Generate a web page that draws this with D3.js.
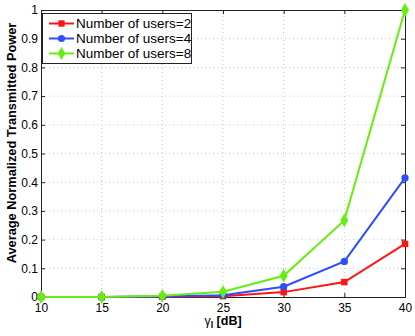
<!DOCTYPE html>
<html>
<head>
<meta charset="utf-8">
<script src="https://cdn.jsdelivr.net/npm/d3@7"></script>
<style>
  body { margin: 0; background: #fff; }
  text { font-family: "Liberation Sans", Arial, sans-serif; }
</style>
</head>
<body>
<div id="chart"></div>
<script>
// data
const gammaDb = [10, 15, 20, 25, 30, 35, 40];
const users2 = [0, 0, 0.001, 0.003, 0.017, 0.052, 0.185];
const users4 = [0, 0, 0.002, 0.006, 0.036, 0.124, 0.415];
const users8 = [0, 0, 0.004, 0.018, 0.074, 0.267, 1.0];
const seriesNames = ["Number of users=2", "Number of users=4", "Number of users=8"];
const yTicks = [0, 0.1, 0.2, 0.3, 0.4, 0.5, 0.6, 0.7, 0.8, 0.9, 1];

const width = 415, height = 336;
const margin = { top: 10, right: 10, bottom: 39, left: 41 };

const svg = d3.select("#chart").append("svg")
    .attr("width", width)
    .attr("height", height);

const x = d3.scaleLinear().domain([10, 40]).range([margin.left, width - margin.right]);
const y = d3.scaleLinear().domain([0, 1]).range([height - margin.bottom, margin.top]);

// grid
svg.append("g").selectAll("line").data(gammaDb.slice(1, -1)).enter().append("line")
    .attr("x1", d => x(d)).attr("x2", d => x(d))
    .attr("y1", y(0)).attr("y2", y(1))
    .attr("stroke", "#c8c8c8").attr("stroke-width", 1).attr("stroke-dasharray", "1,3");
svg.append("g").selectAll("line").data(yTicks.slice(1, -1)).enter().append("line")
    .attr("x1", x(10)).attr("x2", x(40))
    .attr("y1", d => y(d)).attr("y2", d => y(d))
    .attr("stroke", "#c8c8c8").attr("stroke-width", 1).attr("stroke-dasharray", "1,3");

// axes (ticks inside)
const xAxis = svg.append("g")
    .attr("transform", `translate(0,${y(0)})`)
    .call(d3.axisBottom(x).tickValues(gammaDb).tickSize(-4).tickPadding(8).tickFormat(d3.format("d")));
const yAxis = svg.append("g")
    .attr("transform", `translate(${x(10)},0)`)
    .call(d3.axisLeft(y).tickValues(yTicks).tickSize(-4).tickPadding(3).tickFormat(d => d === 0 || d === 1 ? d : d.toFixed(1)));
const xTop = svg.append("g")
    .attr("transform", `translate(0,${y(1)})`)
    .call(d3.axisTop(x).tickValues(gammaDb).tickSize(-4).tickFormat(""));
const yRight = svg.append("g")
    .attr("transform", `translate(${x(40)},0)`)
    .call(d3.axisRight(y).tickValues(yTicks).tickSize(-4).tickFormat(""));

[xAxis, yAxis, xTop, yRight].forEach(g => {
    g.selectAll("text").style("font-size", "12px").attr("fill", "#000");
    g.selectAll("line, path").attr("stroke", "#222");
});
xAxis.selectAll(".tick text").attr("dy", "0.55em");

// lines
const series = [
    { name: seriesNames[0], values: users2, color: "#ff1414", marker: d3.symbolSquare },
    { name: seriesNames[1], values: users4, color: "#2f4cff", marker: d3.symbolCircle },
    { name: seriesNames[2], values: users8, color: "#66ee10", marker: d3.symbolDiamond }
];

const line = d3.line().x((d, i) => x(gammaDb[i])).y(d => y(d));

series.forEach(s => {
    svg.append("path")
        .datum(s.values)
        .attr("fill", "none")
        .attr("stroke", s.color)
        .attr("stroke-width", 2)
        .attr("d", line);
    svg.append("g").selectAll("path").data(s.values).enter().append("path")
        .attr("transform", (d, i) => `translate(${x(gammaDb[i])},${y(d)})`)
        .attr("d", d3.symbol().type(s.marker).size(s.marker === d3.symbolDiamond ? 55 : 42))
        .attr("fill", s.color);
});

// legend
const legend = svg.append("g");
legend.append("rect")
    .attr("x", 42.5).attr("y", 13.5).attr("width", 149).attr("height", 50)
    .attr("fill", "#fff").attr("stroke", "#222");
series.forEach((s, i) => {
    const ly = 23.5 + i * 15;
    legend.append("line")
        .attr("x1", 49).attr("x2", 74).attr("y1", ly).attr("y2", ly)
        .attr("stroke", s.color).attr("stroke-width", 2);
    legend.append("path")
        .attr("transform", `translate(61.5,${ly})`)
        .attr("d", d3.symbol().type(s.marker).size(s.marker === d3.symbolDiamond ? 50 : 40))
        .attr("fill", s.color);
    legend.append("text")
        .attr("x", 76).attr("y", ly).attr("dy", "0.35em")
        .style("font-size", "13.5px")
        .text(s.name);
});

// axis labels
const xl = svg.append("text")
    .attr("x", x(25)).attr("y", 325)
    .attr("text-anchor", "middle")
    .style("font-size", "12.5px").style("font-weight", "bold");
xl.append("tspan").text("γ").style("font-weight", "normal");
xl.append("tspan").text("l").attr("dy", 3).style("font-size", "9px");
xl.append("tspan").text(" [dB]").attr("dy", -3);

svg.append("text")
    .attr("transform", `translate(15.5,143) rotate(-90)`)
    .attr("text-anchor", "middle")
    .style("font-size", "12.8px").style("font-weight", "bold")
    .text("Average Normalized Transmitted Power");
</script>
</body>
</html>
